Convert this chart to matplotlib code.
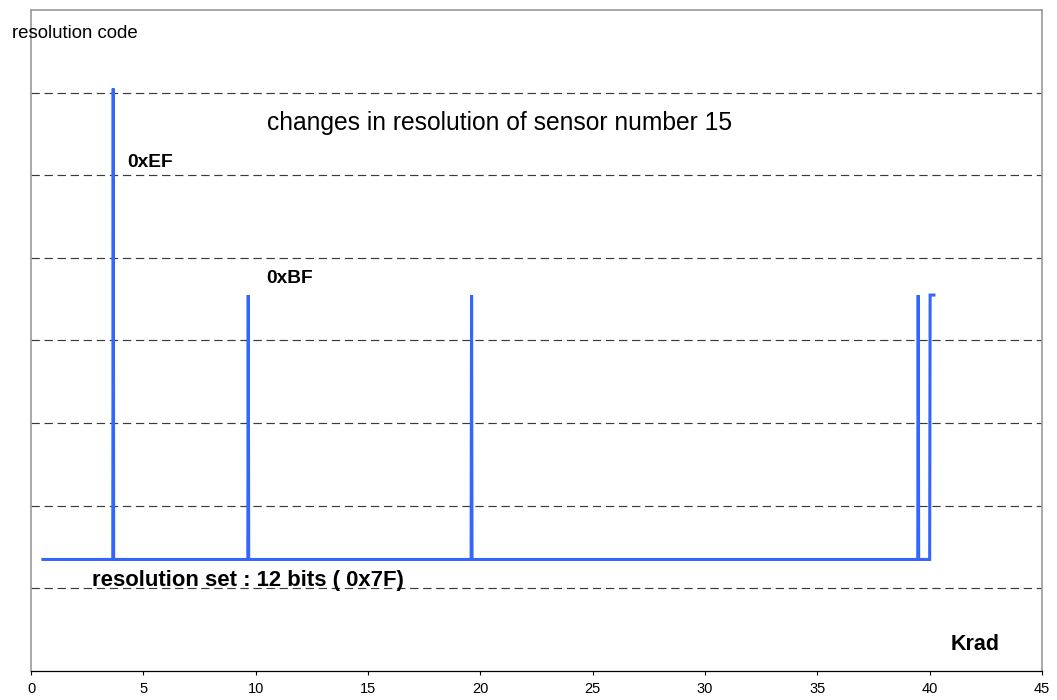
import matplotlib
matplotlib.use('Agg')
import matplotlib.pyplot as plt

plt.rcParams['font.family'] = ['Liberation Sans', 'DejaVu Sans']
plt.rcParams['lines.scale_dashes'] = False

# resolution code of sensor 15 versus dose (Krad)
krad = [0.53, 3.64, 3.66, 3.68, 9.65, 9.67, 9.69, 19.59, 19.61, 19.63,
        39.47, 39.49, 39.51, 40.0, 40.02, 40.19]
code = [127, 127, 241, 127, 127, 191, 127, 127, 191, 127,
        127, 191, 127, 127, 191, 191]

x_ticks = [0, 5, 10, 15, 20, 25, 30, 35, 40, 45]
grid_levels = [120, 140, 160, 180, 200, 220, 240]

fig = plt.figure(figsize=(10.57, 7.0), dpi=100)
ax = fig.add_axes([31 / 1057, 29 / 700, 1011 / 1057, 661 / 700])

# dashed horizontal grid
for g in grid_levels:
    ax.axhline(g, color='#3a3a3a', lw=0.85, dashes=(6.0, 3.4), zorder=1)

ax.plot(krad, code, color='#3366ff', lw=2.2, solid_joinstyle='miter', zorder=3)

ax.set_xlim(0, 45)
ax.set_ylim(100, 260)
ax.set_xticks(x_ticks)
ax.set_yticks([])
ax.tick_params(axis='x', direction='out', length=3, width=0.8, pad=5,
               labelsize=10.5, colors='black')

for side in ['top', 'left', 'right']:
    ax.spines[side].set_color('#999999')
    ax.spines[side].set_linewidth(1.2)
ax.spines['bottom'].set_color('black')
ax.spines['bottom'].set_linewidth(0.9)

# labels
fig.text(12 / 1057, 1 - 33 / 700, 'resolution code', fontsize=13.4, va='center', ha='left')
ax.text(10.5, 232.7, 'changes in resolution of sensor number 15', fontsize=17.7,
        va='center', ha='left')
ax.text(4.27, 223, '0xEF', fontsize=13.8, fontweight='bold', va='center', ha='left')
ax.text(10.46, 195, '0xBF', fontsize=13.8, fontweight='bold', va='center', ha='left')
ax.text(2.71, 122, 'resolution set : 12 bits ( 0x7F)', fontsize=15.9,
        fontweight='bold', va='center', ha='left', zorder=4)
ax.text(40.94, 106.3, 'Krad', fontsize=15.5, fontweight='bold', va='center', ha='left')

fig.savefig('out.png', dpi=100)
